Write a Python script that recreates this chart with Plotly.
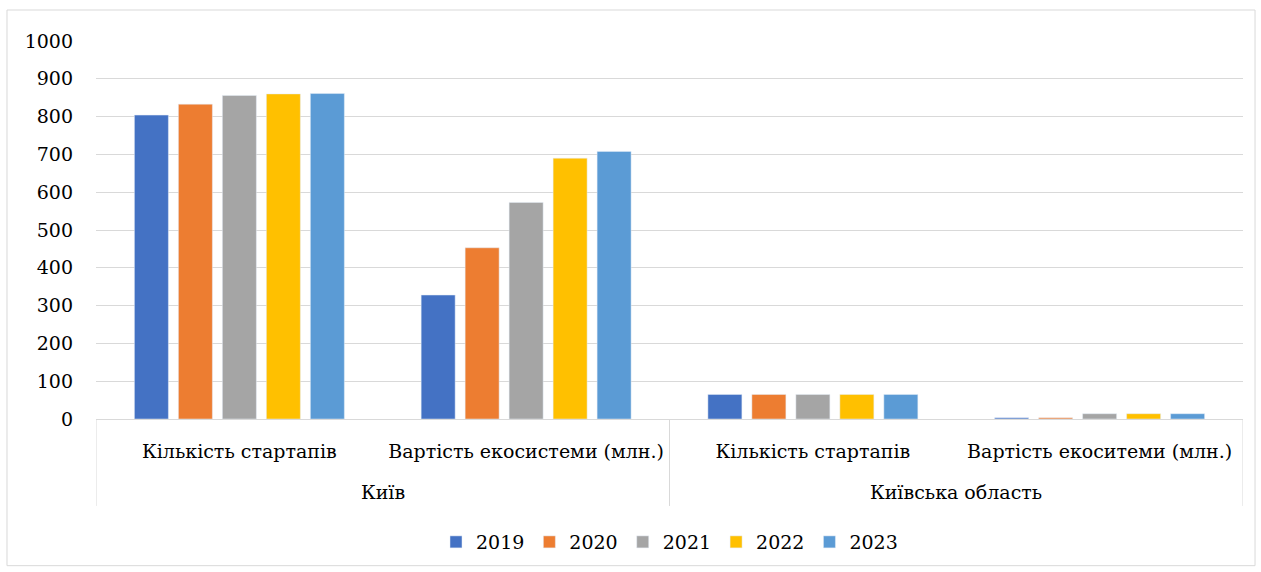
import plotly.graph_objects as go

regions = ["Київ", "Київська область"]
metrics = ["Кількість стартапів", "Вартість екосистеми (млн.)",
           "Кількість стартапів", "Вартість екоситеми (млн.)"]
years = ["2019", "2020", "2021", "2022", "2023"]

v2019 = [804, 328, 65, 3]
v2020 = [833, 453, 65, 3]
v2021 = [856, 573, 65, 14]
v2022 = [860, 690, 65, 14]
v2023 = [861, 708, 65, 14]
series = [v2019, v2020, v2021, v2022, v2023]
colors = ["#4472C4", "#ED7D31", "#A5A5A5", "#FFC000", "#5B9BD5"]

y_ticks = [0, 100, 200, 300, 400, 500, 600, 700, 800, 900, 1000]

FONT = "DejaVu Serif"
FS = 19
GRID = "#d9d9d9"

x_pos = list(range(len(metrics)))

fig = go.Figure()
for name, vals, col in zip(years, series, colors):
    fig.add_trace(go.Bar(x=x_pos, y=vals, name=name, marker_color=col))

# outer group labels and the divider lines of the two-level category axis
annotations = []
shapes = []
per_group = len(metrics) // len(regions)
for gi, reg in enumerate(regions):
    centre = gi * per_group + (per_group - 1) / 2
    annotations.append(dict(x=centre, y=-0.193, xref="x", yref="paper",
                            text=reg, showarrow=False, yanchor="middle",
                            font=dict(family=FONT, size=FS, color="black")))
for b in range(len(regions) + 1):
    xb = b * per_group - 0.5
    shapes.append(dict(type="line", xref="x", yref="paper", x0=xb, x1=xb,
                       y0=0, y1=-0.23, line=dict(color=GRID, width=1)))
# chart-area frame
shapes.append(dict(type="rect", xref="paper", yref="paper",
                   x0=-0.0776, x1=1.0105, y0=-0.388, y1=1.082,
                   line=dict(color=GRID, width=1)))

fig.update_layout(
    width=1261, height=572,
    margin=dict(l=96, r=18, t=41, b=152),
    paper_bgcolor="white", plot_bgcolor="white",
    font=dict(family=FONT, size=FS, color="black"),
    barmode="group", bargap=0.233, bargroupgap=0.227,
    showlegend=True,
    legend=dict(orientation="h", x=0.5, xanchor="center", y=-0.322, yanchor="middle",
                font=dict(family=FONT, size=FS, color="black"), itemwidth=30),
    annotations=annotations,
    shapes=shapes,
)
fig.update_yaxes(range=[0, 1000], tickvals=y_ticks, showgrid=True,
                 gridcolor=GRID, zeroline=False, ticks="", ticklabelstandoff=22,
                 tickfont=dict(family=FONT, size=FS, color="black"))
fig.update_xaxes(range=[-0.5, len(metrics) - 0.5], tickvals=x_pos, ticktext=metrics,
                 showline=True, linecolor=GRID, showgrid=False,
                 zeroline=False, ticks="", ticklabelstandoff=15,
                 tickfont=dict(family=FONT, size=FS, color="black"))

fig.write_html("out.html")
